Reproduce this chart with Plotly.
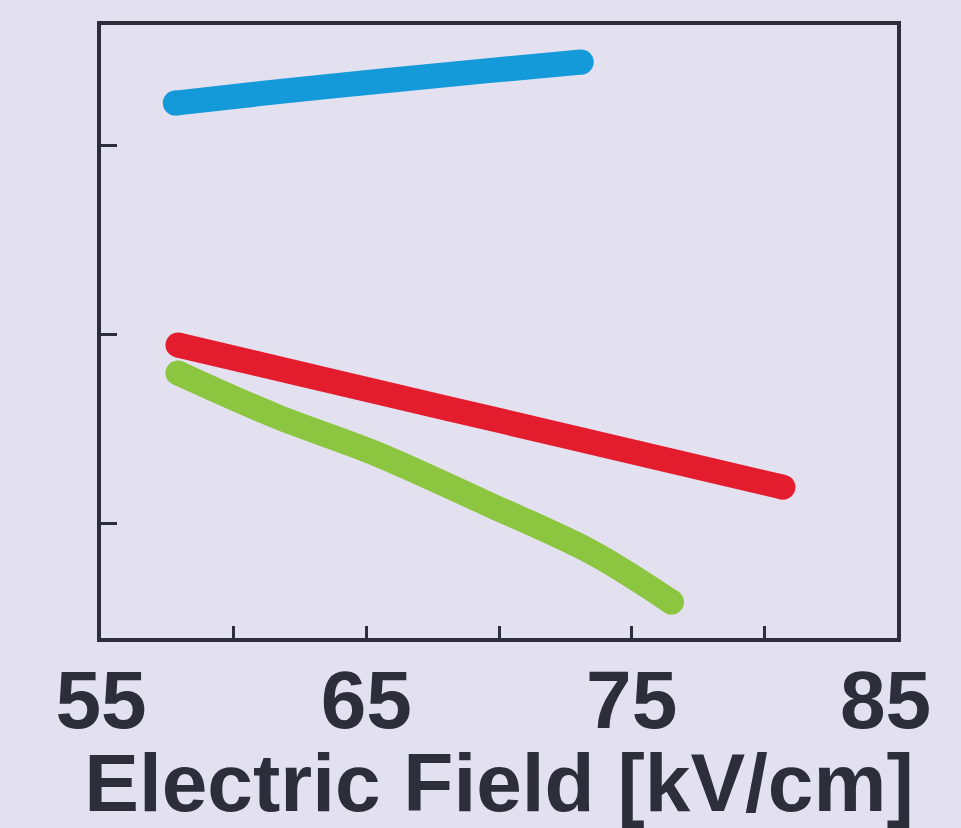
import plotly.graph_objects as go

# Data (y axis is unlabeled; arbitrary units, ticks at 1, 2, 3)
blue_field = [57.8, 61.5, 65.6, 69.5, 73.1]
blue_value = [3.222, 3.280, 3.339, 3.392, 3.439]

red_field = [57.9, 64.0, 70.0, 76.0, 80.7]
red_value = [1.942, 1.740, 1.543, 1.345, 1.190]

green_field = [57.9, 61.6, 65.4, 69.5, 73.5, 76.5]
green_value = [1.794, 1.565, 1.365, 1.106, 0.845, 0.582]

x_tickvals = [55, 60, 65, 70, 75, 80, 85]
x_ticktext = ["55", "", "65", "", "75", "", "85\u00a0"]
y_tickvals = [1, 2, 3]

BG = "#e3e1f0"
INK = "#2e2d3a"
LW = 25
FONT = "Arial, Liberation Sans, sans-serif"

fig = go.Figure()

def add_series(xs, ys, color):
    sizes = [0] * len(xs)
    sizes[0] = LW
    sizes[-1] = LW
    fig.add_trace(go.Scatter(
        x=xs, y=ys, mode="lines+markers",
        line=dict(color=color, width=LW, shape="spline", smoothing=1.0),
        marker=dict(color=color, size=sizes, opacity=1, line=dict(width=0)),
        opacity=1,
        showlegend=False, hoverinfo="skip",
    ))

add_series(blue_field, blue_value, "#1499d9")
add_series(red_field, red_value, "#e31d2e")
add_series(green_field, green_value, "#8cc540")

fig.update_layout(
    width=961, height=828,
    margin=dict(l=101, r=64, t=25, b=190),
    paper_bgcolor=BG, plot_bgcolor=BG,
    font=dict(family=FONT, color=INK),
)

fig.update_xaxes(
    range=[55, 85],
    tickmode="array", tickvals=x_tickvals, ticktext=x_ticktext,
    ticks="inside", ticklen=12, tickwidth=3, tickcolor=INK,
    tickfont=dict(size=82, family=FONT, color=INK, weight="bold"),
    ticklabelstandoff=-12,
    showline=True, linecolor=INK, linewidth=4, mirror=True,
    showgrid=False, zeroline=False,
    title=dict(text="Electric Field [kV/cm]",
               font=dict(size=82, family=FONT, color=INK, weight="bold"),
               standoff=6),
    automargin=False,
)

fig.update_yaxes(
    range=[0.392, 3.635],
    tickmode="array", tickvals=y_tickvals, showticklabels=False,
    ticks="inside", ticklen=16, tickwidth=3, tickcolor=INK,
    showline=True, linecolor=INK, linewidth=4, mirror=True,
    showgrid=False, zeroline=False,
    automargin=False,
)

fig.write_html("out.html", config={"displayModeBar": False},
               post_script="document.body.style.margin='0';document.body.style.overflow='hidden';")
